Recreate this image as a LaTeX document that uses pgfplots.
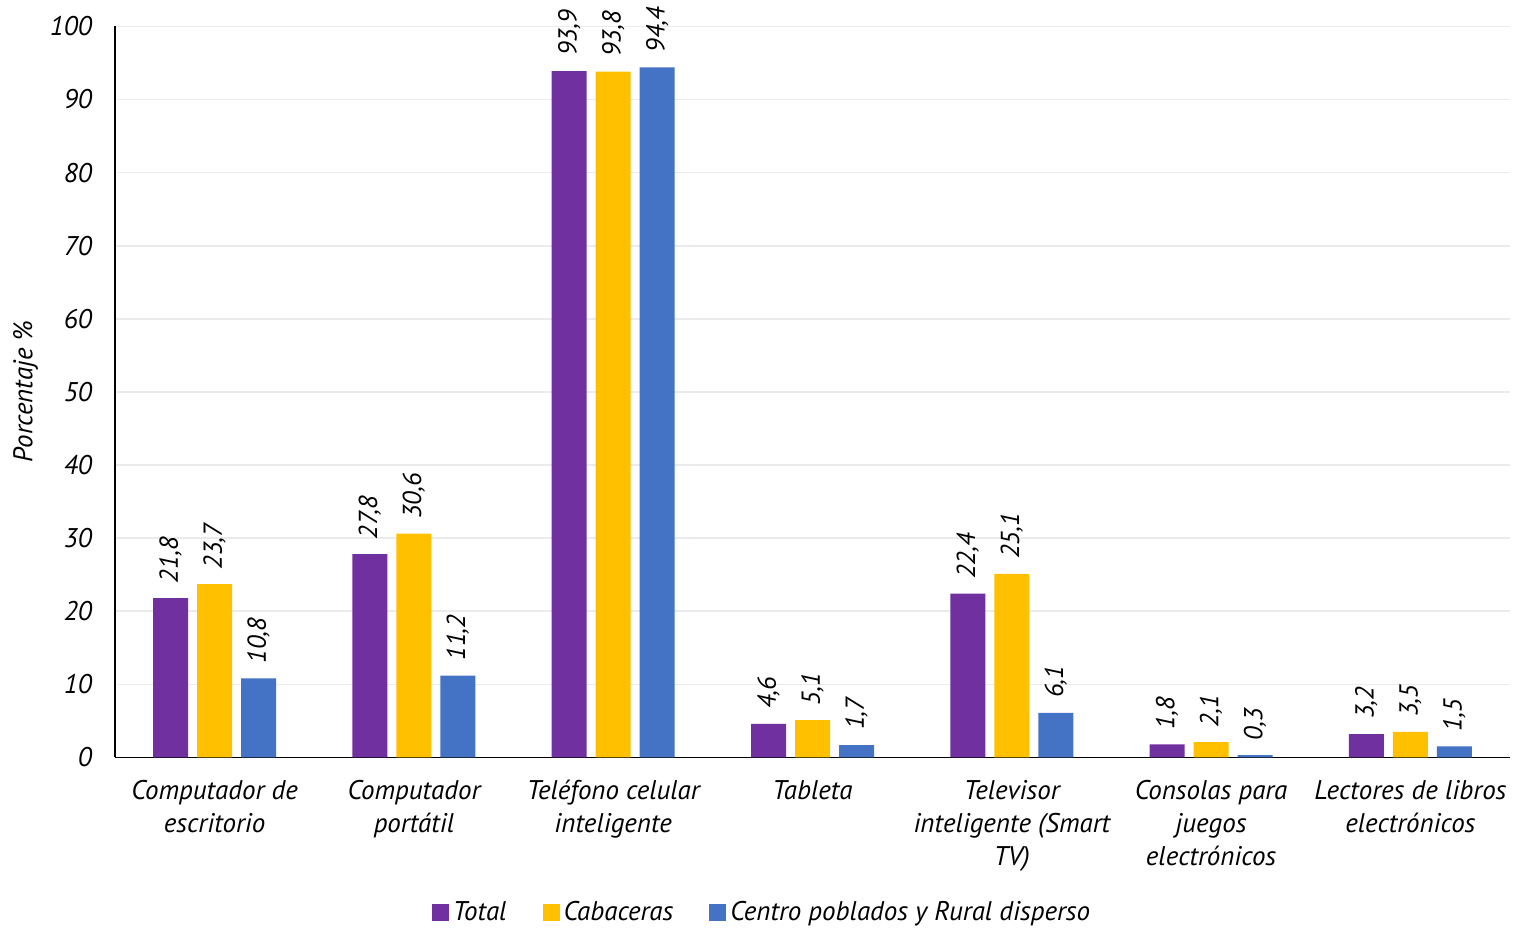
\documentclass[border=0pt]{standalone}
\usepackage{fontspec}
\setmainfont{PT Sans}
\usepackage{pgfplots}
\pgfplotsset{compat=1.18}

\definecolor{cTotal}{HTML}{7030A0}
\definecolor{cCab}{HTML}{FFC000}
\definecolor{cRural}{HTML}{4472C4}
\definecolor{cGrid}{HTML}{EBEBEB}

\newcommand{\lab}{\fontsize{13.5}{16.5}\selectfont\itshape}
\newcommand{\vlab}{\fontsize{13}{16}\selectfont\itshape}

\begin{document}
\begin{tikzpicture}
\begin{axis}[
  at={(0,0)}, anchor=south west,
  scale only axis,
  width=697.5pt, height=365.5pt,
  ybar=4.5pt, bar width=17.5pt,
  xmin=-0.5, xmax=6.5,
  ymin=0, ymax=100,
  ytick={0,10,...,100},
  xtick={0,...,6},
  xticklabels={
    {Computador de\\escritorio},
    {Computador\\portátil},
    {Teléfono celular\\inteligente},
    {Tableta},
    {Televisor\\inteligente (Smart\\TV)},
    {Consolas para\\juegos\\electrónicos},
    {Lectores de libros\\electrónicos}},
  xticklabel style={align=center, font=\lab, anchor=north, yshift=-8pt},
  yticklabel style={font=\lab, xshift=-8pt},
  /pgf/number format/assume math mode=true,
  major tick length=0pt,
  axis x line*=bottom, axis y line*=left,
  axis line style={black, line width=0.8pt},
  ymajorgrids, grid style={cGrid, line width=0.8pt},
  ylabel={Porcentaje \%},
  ylabel style={font=\lab, yshift=-1pt},
  nodes near coords,
  nodes near coords style={font=\vlab, rotate=90, anchor=west, xshift=4pt,
    /pgf/number format/.cd, fixed, fixed zerofill, precision=1, use comma, assume math mode=true},
  legend columns=3,
  legend style={at={(0.4645,-0.212)}, anchor=center, draw=none, fill=none,
    font=\lab, /tikz/every even column/.append style={column sep=16pt}},
  legend image code/.code={\fill[#1] (0pt,-4.25pt) rectangle (8.5pt,4.25pt);},
]
\addplot[fill=cTotal, draw=none] coordinates {(0,21.8) (1,27.8) (2,93.9) (3,4.6) (4,22.4) (5,1.8) (6,3.2)};
\addplot[fill=cCab, draw=none] coordinates {(0,23.7) (1,30.6) (2,93.8) (3,5.1) (4,25.1) (5,2.1) (6,3.5)};
\addplot[fill=cRural, draw=none] coordinates {(0,10.8) (1,11.2) (2,94.4) (3,1.7) (4,6.1) (5,0.3) (6,1.5)};
\legend{Total, Cabaceras, Centro poblados y Rural disperso}
\end{axis}
\path[use as bounding box] (-57.5pt,-85pt) rectangle (704.5pt,378pt);
\end{tikzpicture}
\end{document}
